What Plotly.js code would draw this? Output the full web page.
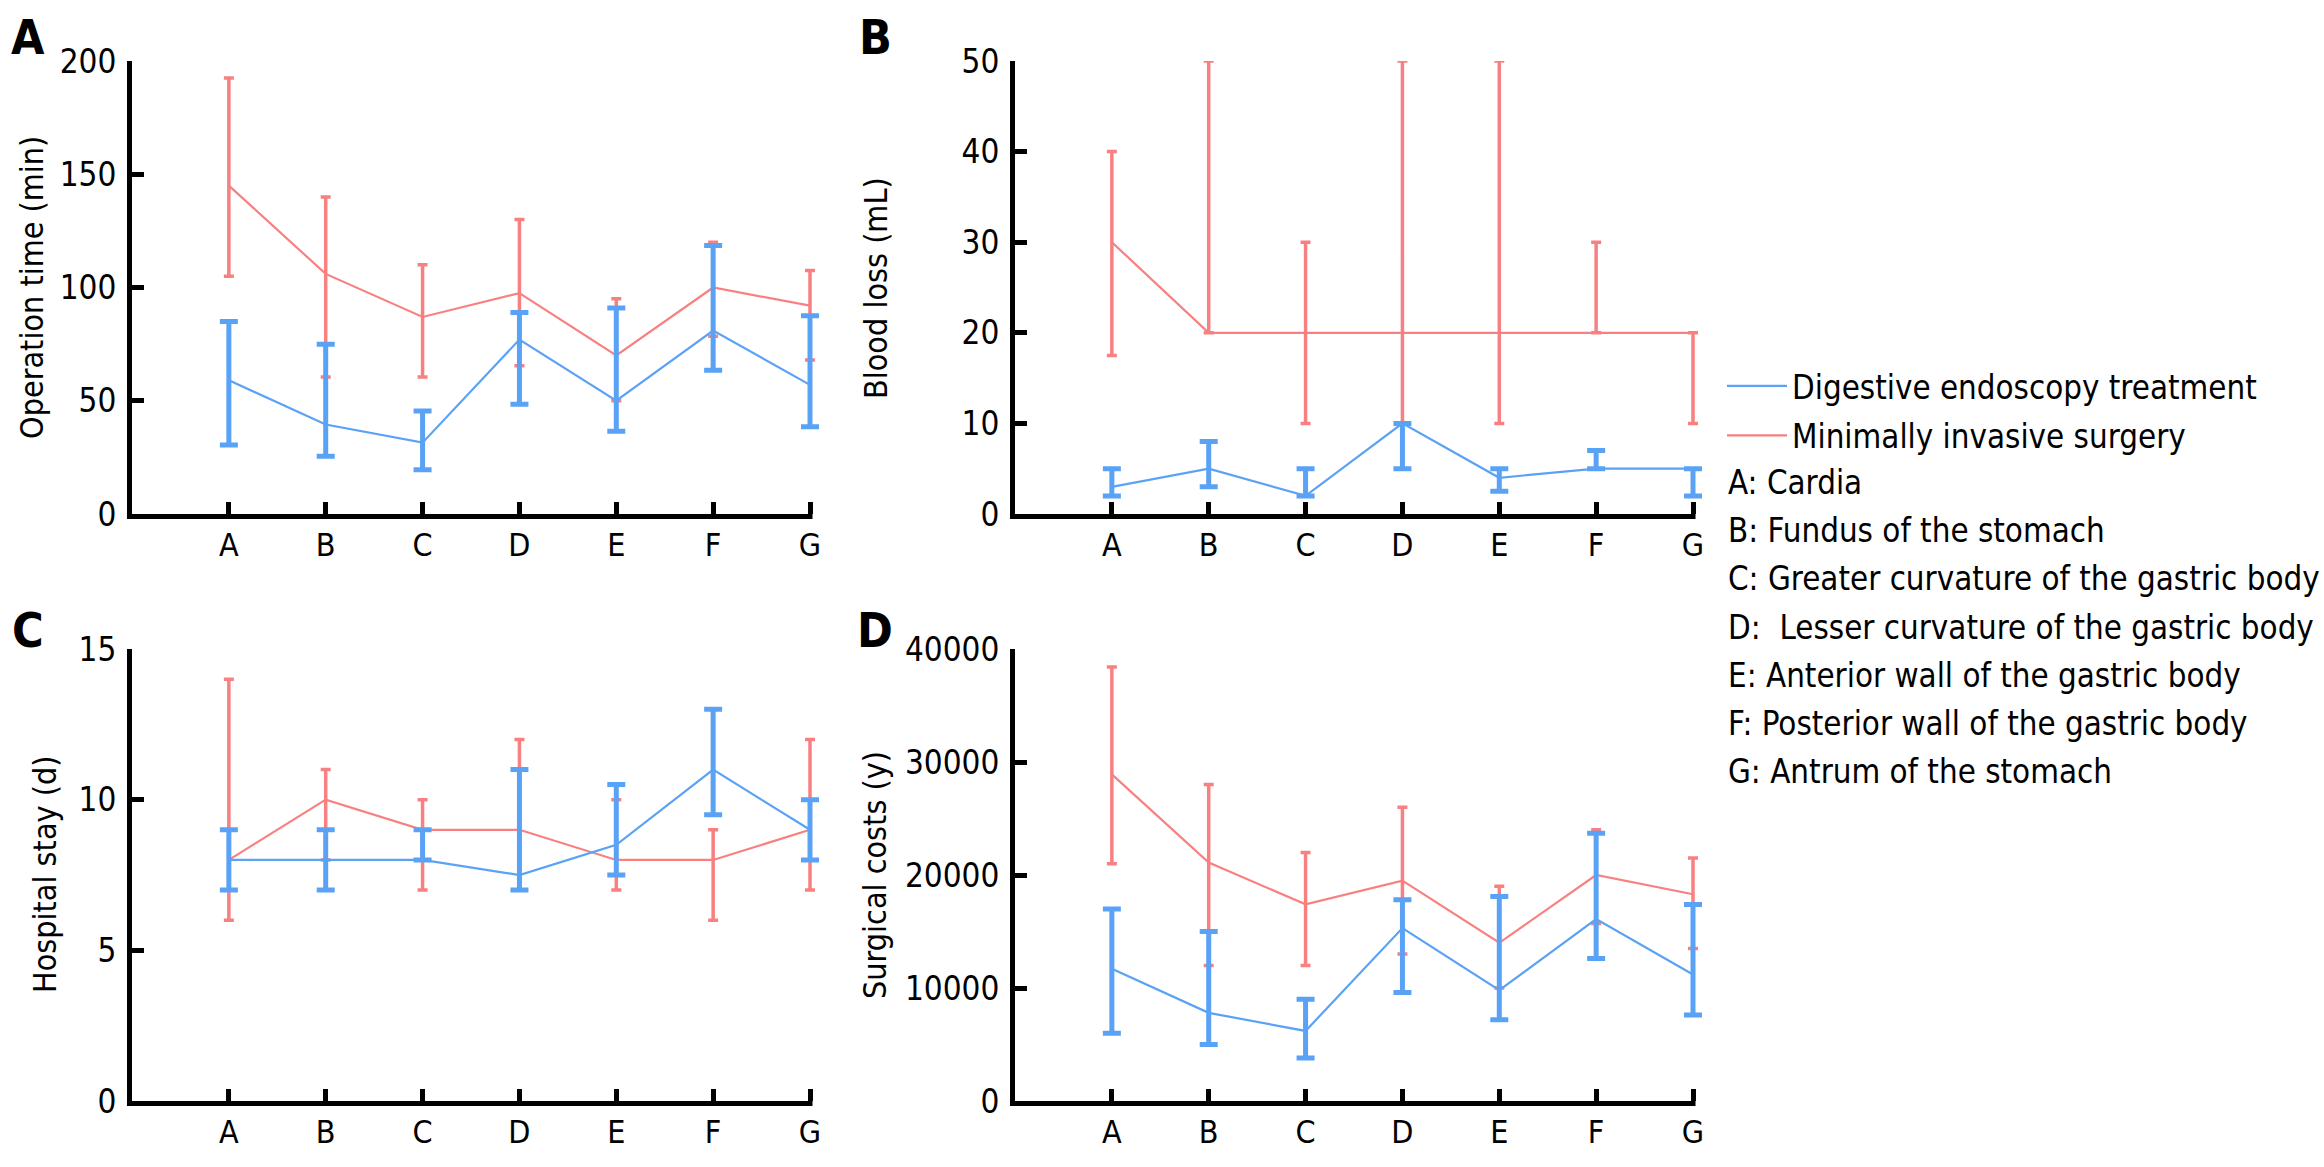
<!DOCTYPE html>
<html>
<head>
<meta charset="utf-8">
<script src="https://cdn.plot.ly/plotly-3.0.1.min.js"></script>
<style>html,body{margin:0;padding:0;background:#fff;}#chart{width:2324px;height:1167px;}</style>
</head>
<body>
<div id="chart"></div>
<script>
const categories = ['A', 'B', 'C', 'D', 'E', 'F', 'G'];
const seriesNames = ['Digestive endoscopy treatment', 'Minimally invasive surgery'];
const siteLabels = [
  'A: Cardia',
  'B: Fundus of the stomach',
  'C: Greater curvature of the gastric body',
  'D:  Lesser curvature of the gastric body',
  'E: Anterior wall of the gastric body',
  'F: Posterior wall of the gastric body',
  'G: Antrum of the stomach'
];
const panelLetters = ['A', 'B', 'C', 'D'];
const axisTitles = ['Operation time (min)', 'Blood loss (mL)', 'Hospital stay (d)', 'Surgical costs (y)'];

// A: Operation time
const opMis   = [145, 106, 87, 97.5, 70, 100, 92];
const opMisHi = [192.5, 140, 110, 130, 95, 120, 107.5];
const opMisLo = [105, 60.5, 60.5, 65.5, 50, 78.5, 68];
const opDet   = [59, 39.5, 31.5, 77, 50, 81, 57];
const opDetHi = [85, 75, 45.5, 89, 91, 118.5, 87.5];
const opDetLo = [30.5, 25.5, 19.5, 48.5, 36.5, 63.5, 38.5];

// B: Blood loss
const blMis   = [30, 20, 20, 20, 20, 20, 20];
const blMisHi = [40, 50, 30, 50, 50, 30, 20];
const blMisLo = [17.5, 20, 10, 10, 10, 20, 10];
const blDet   = [3, 5, 2, 10, 4, 5, 5];
const blDetHi = [5, 8, 5, 10, 5, 7, 5];
const blDetLo = [2, 3, 2, 5, 2.5, 5, 2];

// C: Hospital stay
const hsMis   = [8, 10, 9, 9, 8, 8, 9];
const hsMisHi = [14, 11, 10, 12, 10, 9, 12];
const hsMisLo = [6, 8, 7, 7, 7, 6, 7];
const hsDet   = [8, 8, 8, 7.5, 8.5, 11, 9];
const hsDetHi = [9, 9, 9, 11, 10.5, 13, 10];
const hsDetLo = [7, 7, 8, 7, 7.5, 9.5, 8];

// D: Surgical costs
const scMis   = [28900, 21100, 17400, 19500, 14000, 20000, 18300];
const scMisHi = [38400, 28000, 22000, 26000, 19000, 24000, 21500];
const scMisLo = [21000, 12000, 12000, 13000, 10000, 15700, 13500];
const scDet   = [11700, 7800, 6200, 15300, 9800, 16100, 11200];
const scDetHi = [17000, 15000, 9000, 17800, 18100, 23700, 17400];
const scDetLo = [6000, 5000, 3800, 9600, 7200, 12600, 7600];

const yTicksA = [0, 50, 100, 150, 200];
const yTicksB = [0, 10, 20, 30, 40, 50];
const yTicksC = [0, 5, 10, 15];
const yTicksD = [0, 10000, 20000, 30000, 40000];

const BLUE = '#5aa2f5';
const RED = '#f98080';
const FONT = '"DejaVu Sans Condensed", "DejaVu Sans", sans-serif';

const W = 2324, H = 1167;
const px = v => v / W;
const py = v => 1 - v / H;

function mkTrace(mean, hi, lo, color, name, xa, ya, isBlue, showLeg) {
  return {
    type: 'scatter', mode: 'lines', x: categories, y: mean,
    name: name, legendgroup: name, showlegend: showLeg,
    legendrank: isBlue ? 1 : 2,
    xaxis: xa, yaxis: ya, cliponaxis: false,
    line: {color: color, width: 2.2},
    error_y: {
      type: 'data', symmetric: false,
      array: hi.map((h, i) => h - mean[i]),
      arrayminus: lo.map((l, i) => mean[i] - l),
      color: color, thickness: isBlue ? 5 : 3.5, width: isBlue ? 9 : 5
    },
    hoverinfo: 'x+y'
  };
}

const data = [
  mkTrace(opMis, opMisHi, opMisLo, RED, seriesNames[1], 'x', 'y', false, true),
  mkTrace(opDet, opDetHi, opDetLo, BLUE, seriesNames[0], 'x', 'y', true, true),
  mkTrace(blMis, blMisHi, blMisLo, RED, seriesNames[1], 'x2', 'y2', false, false),
  mkTrace(blDet, blDetHi, blDetLo, BLUE, seriesNames[0], 'x2', 'y2', true, false),
  mkTrace(hsMis, hsMisHi, hsMisLo, RED, seriesNames[1], 'x3', 'y3', false, false),
  mkTrace(hsDet, hsDetHi, hsDetLo, BLUE, seriesNames[0], 'x3', 'y3', true, false),
  mkTrace(scMis, scMisHi, scMisLo, RED, seriesNames[1], 'x4', 'y4', false, false),
  mkTrace(scDet, scDetHi, scDetLo, BLUE, seriesNames[0], 'x4', 'y4', true, false)
];

// x range extends a little past the last category so error-bar caps at G are not clipped;
// the visible x-axis line (a shape) ends at G like the reference.
const XEXT = 0.14;
const unitL = (810 - 132) / 7;
const unitR = (1693 - 1015) / 7;
const xDomL = [px(132), px(810 + XEXT * unitL)];
const xDomR = [px(1015), px(1693 + XEXT * unitR)];
const yDomT = [py(514), py(61)];
const yDomB = [py(1101), py(649)];

function xAxis(domain, anchor) {
  return {
    domain: domain, anchor: anchor, type: 'category', range: [-1, 6 + XEXT],
    categoryorder: 'array', categoryarray: categories,
    showline: false,
    ticks: 'inside', ticklen: 12, tickwidth: 5, tickcolor: '#000',
    showgrid: false, zeroline: false,
    tickfont: {family: FONT, size: 32, color: '#000'},
    ticklabelstandoff: 9, fixedrange: true
  };
}
function yAxis(domain, anchor, ticks, range) {
  return {
    domain: domain, anchor: anchor, range: range,
    tickmode: 'array', tickvals: ticks, ticktext: ticks.map(String),
    showline: true, linecolor: '#000', linewidth: 5,
    ticks: 'inside', ticklen: 12, tickwidth: 5, tickcolor: '#000',
    showgrid: false, zeroline: false,
    tickfont: {family: FONT, size: 33, color: '#000'},
    ticklabelstandoff: 4, fixedrange: true
  };
}

// x-axis lines: from the y-axis line to category G, in domain fractions
const SPAN = 7 + XEXT;
const xLineStart = (-0.052) / SPAN;
const xLineEnd = 7.026 / SPAN;
const shapes = [
  ['x domain', 'y domain', 453], ['x2 domain', 'y2 domain', 453],
  ['x3 domain', 'y3 domain', 452], ['x4 domain', 'y4 domain', 452]
].map(([xr, yr, h]) => ({
  type: 'line', xref: xr, yref: yr,
  x0: xLineStart, x1: xLineEnd, y0: -2.5 / h, y1: -2.5 / h,
  line: {color: '#000', width: 5}, layer: 'above'
}));

const annotations = [];
const letterPos = [[28, 37], [875, 37], [28, 630], [875, 630]];
panelLetters.forEach((t, i) => annotations.push({
  xref: 'paper', yref: 'paper', x: px(letterPos[i][0]), y: py(letterPos[i][1]),
  xanchor: 'center', yanchor: 'middle', showarrow: false,
  text: '<b>' + t + '</b>', font: {family: FONT, size: 48, color: '#000'}
}));
const titlePos = [[32, 288], [876, 288], [45, 875], [875, 875]];
axisTitles.forEach((t, i) => annotations.push({
  xref: 'paper', yref: 'paper', x: px(titlePos[i][0]), y: py(titlePos[i][1]),
  xanchor: 'center', yanchor: 'middle', showarrow: false, textangle: -90,
  text: t, font: {family: FONT, size: 32, color: '#000'}
}));
siteLabels.forEach((t, i) => annotations.push({
  xref: 'paper', yref: 'paper', x: px(1726), y: py(483 + i * 48.2),
  xanchor: 'left', yanchor: 'middle', showarrow: false,
  text: t, font: {family: FONT, size: 32.8, color: '#000'}
}));

const layout = {
  width: W, height: H,
  margin: {l: 0, r: 0, t: 0, b: 0, pad: 0},
  paper_bgcolor: '#fff', plot_bgcolor: 'rgba(0,0,0,0)',
  showlegend: true,
  legend: {
    x: px(1722), y: py(358), xanchor: 'left', yanchor: 'top',
    traceorder: 'grouped', tracegroupgap: 4,
    font: {family: FONT, size: 32.8, color: '#000'},
    bgcolor: 'rgba(0,0,0,0)', borderwidth: 0, itemwidth: 60
  },
  xaxis: xAxis(xDomL, 'y'), yaxis: yAxis(yDomT, 'x', yTicksA, [0, 200]),
  xaxis2: xAxis(xDomR, 'y2'), yaxis2: yAxis(yDomT, 'x2', yTicksB, [0, 50]),
  xaxis3: xAxis(xDomL, 'y3'), yaxis3: yAxis(yDomB, 'x3', yTicksC, [0, 15]),
  xaxis4: xAxis(xDomR, 'y4'), yaxis4: yAxis(yDomB, 'x4', yTicksD, [0, 40000]),
  shapes: shapes,
  annotations: annotations
};

Plotly.newPlot('chart', data, layout, {staticPlot: true, displayModeBar: false});
</script>
</body>
</html>
